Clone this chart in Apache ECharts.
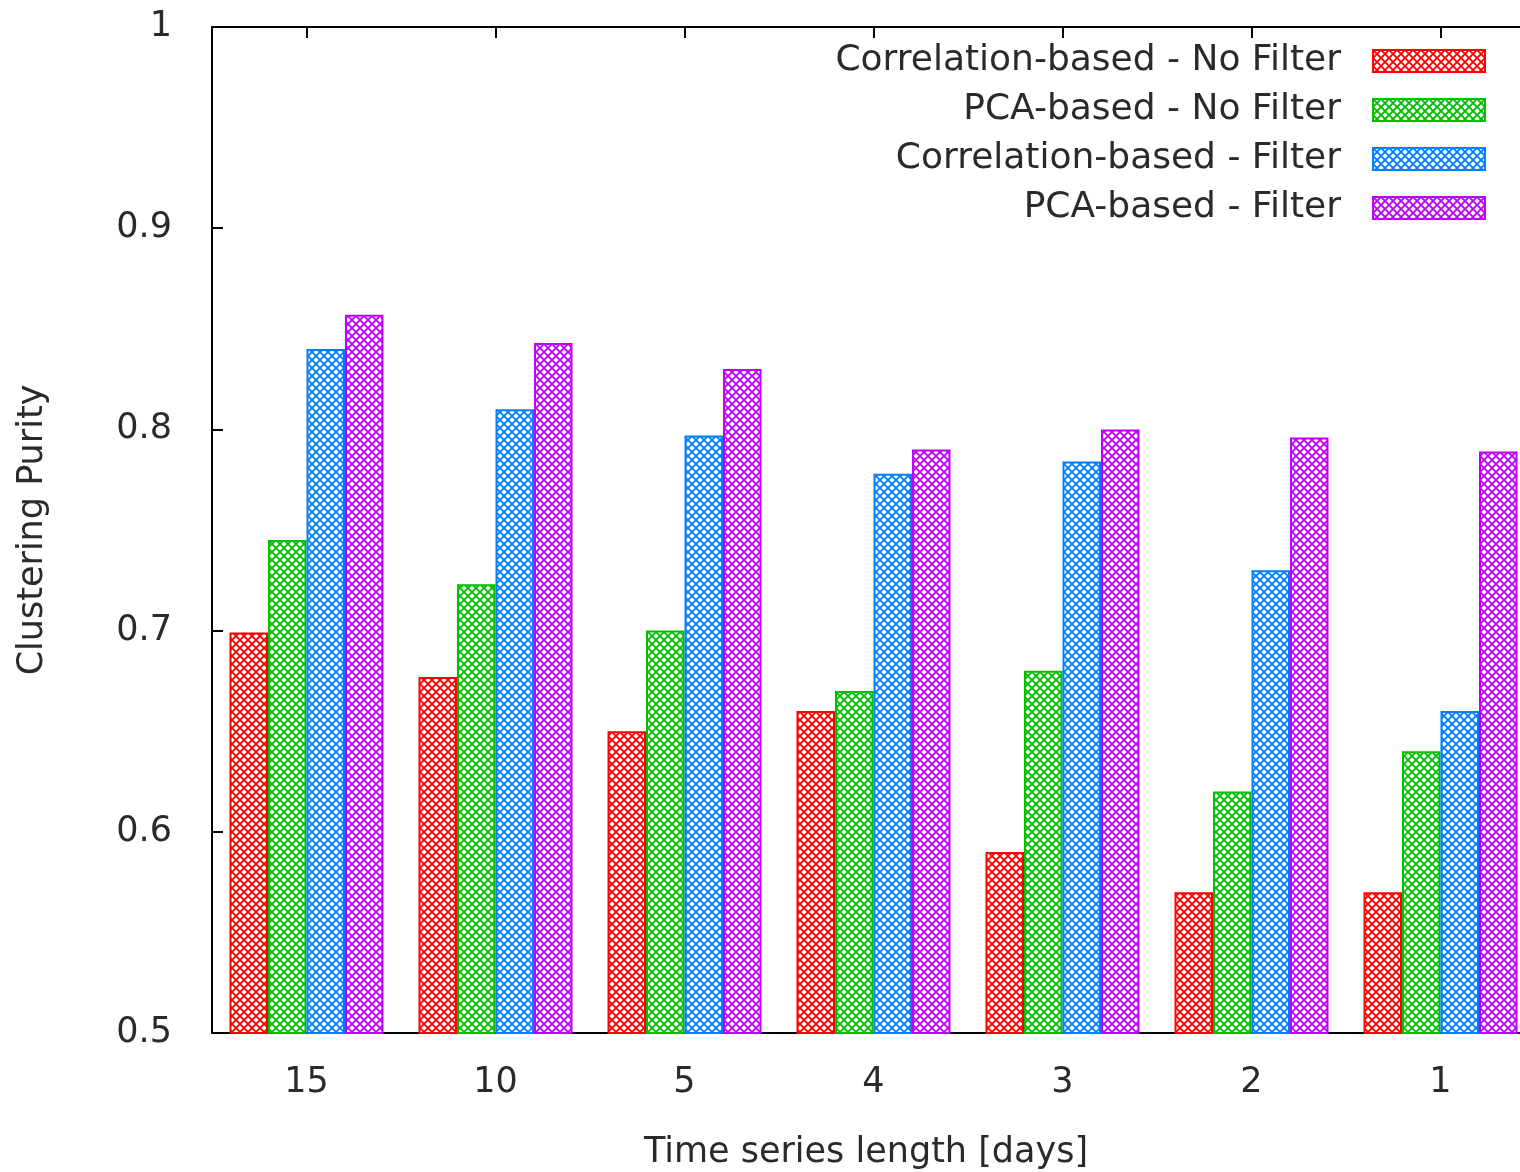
<!DOCTYPE html>
<html>
<head>
<meta charset="utf-8">
<script src="https://cdn.jsdelivr.net/npm/echarts@6/dist/echarts.min.js"></script>
<style>
  html, body { margin: 0; padding: 0; background: #fff; }
  #chart { width: 1520px; height: 1172px; }
</style>
</head>
<body>
<div id="chart"></div>
<script>
const categories = ['15', '10', '5', '4', '3', '2', '1'];
const seriesNames = ['Correlation-based - No Filter', 'PCA-based - No Filter', 'Correlation-based - Filter', 'PCA-based - Filter'];
const corrNoFilter = [0.699, 0.677, 0.650, 0.660, 0.590, 0.570, 0.570];
const pcaNoFilter  = [0.745, 0.723, 0.700, 0.670, 0.680, 0.620, 0.640];
const corrFilter   = [0.840, 0.810, 0.797, 0.778, 0.784, 0.730, 0.660];
const pcaFilter    = [0.857, 0.843, 0.830, 0.790, 0.800, 0.796, 0.789];
const seriesValues = [corrNoFilter, pcaNoFilter, corrFilter, pcaFilter];
const colors = ['#ff0000', '#00c000', '#0080ff', '#c000ff'];

const FONT = 'DejaVu Sans';
const TXT = '#2a2a2a';

function makePattern(color) {
  const p = 8;
  const c = document.createElement('canvas');
  c.width = p; c.height = p;
  const ctx = c.getContext('2d');
  ctx.fillStyle = '#ffffff';
  ctx.fillRect(0, 0, p, p);
  ctx.strokeStyle = color;
  ctx.lineWidth = 1.9;
  for (const k of [-p, 0, p]) {
    ctx.beginPath();
    ctx.moveTo(k, 0); ctx.lineTo(k + p, p);
    ctx.moveTo(k + p, 0); ctx.lineTo(k, p);
    ctx.stroke();
  }
  return { image: c, repeat: 'repeat' };
}

const chart = echarts.init(document.getElementById('chart'), null, { renderer: 'canvas' });

const series = seriesNames.map((name, i) => ({
  name: name,
  type: 'bar',
  xAxisIndex: 0,
  yAxisIndex: 0,
  data: seriesValues[i],
  barWidth: 38.5,
  barGap: '0%',
  itemStyle: {
    color: makePattern(colors[i]),
    borderColor: colors[i],
    borderWidth: 2
  },
  emphasis: { disabled: true },
  animation: false
}));

chart.setOption({
  backgroundColor: '#ffffff',
  animation: false,
  textStyle: { fontFamily: FONT },
  grid: { left: 212, top: 27, width: 1323, height: 1006, containLabel: false, outerBoundsMode: 'none' },
  legend: {
    data: seriesNames,
    orient: 'vertical',
    align: 'right',
    right: 29,
    top: 38,
    itemWidth: 112,
    itemHeight: 22,
    itemGap: 13,
    icon: 'rect',
    selectedMode: false,
    textStyle: { fontFamily: FONT, fontSize: 36, color: TXT, padding: [0, 27, 0, 0] }
  },
  xAxis: [
    {
      type: 'category',
      position: 'bottom',
      data: categories,
      boundaryGap: true,
      axisLine: { show: true, lineStyle: { color: '#000', width: 2 } },
      axisTick: { show: false },
      axisLabel: { fontFamily: FONT, fontSize: 35, color: TXT, margin: 32 },
      splitLine: { show: false },
      name: 'Time series length [days]',
      nameLocation: 'middle',
      nameGap: 102,
      nameTextStyle: { fontFamily: FONT, fontSize: 35, color: TXT, padding: [0, 15, 0, 0] }
    },
    {
      type: 'category',
      position: 'top',
      data: categories,
      boundaryGap: true,
      axisLine: { show: true, lineStyle: { color: '#000', width: 2 } },
      axisTick: { show: true, inside: true, length: 11, alignWithLabel: true, lineStyle: { color: '#000', width: 2 } },
      axisLabel: { show: false },
      splitLine: { show: false }
    }
  ],
  yAxis: [
    {
      type: 'value',
      position: 'left',
      min: 0.5,
      max: 1,
      interval: 0.1,
      axisLine: { show: true, lineStyle: { color: '#000', width: 2 } },
      axisTick: { show: true, inside: true, length: 11, lineStyle: { color: '#000', width: 2 } },
      axisLabel: { fontFamily: FONT, fontSize: 35, color: TXT, margin: 40 },
      splitLine: { show: false },
      name: 'Clustering Purity',
      nameLocation: 'middle',
      nameGap: 162,
      nameTextStyle: { fontFamily: FONT, fontSize: 35, color: TXT }
    },
    {
      type: 'value',
      position: 'right',
      min: 0.5,
      max: 1,
      interval: 0.1,
      axisLine: { show: true, lineStyle: { color: '#000', width: 2 } },
      axisTick: { show: true, inside: true, length: 11, lineStyle: { color: '#000', width: 2 } },
      axisLabel: { show: false },
      splitLine: { show: false }
    }
  ],
  series: series
});
</script>
</body>
</html>
